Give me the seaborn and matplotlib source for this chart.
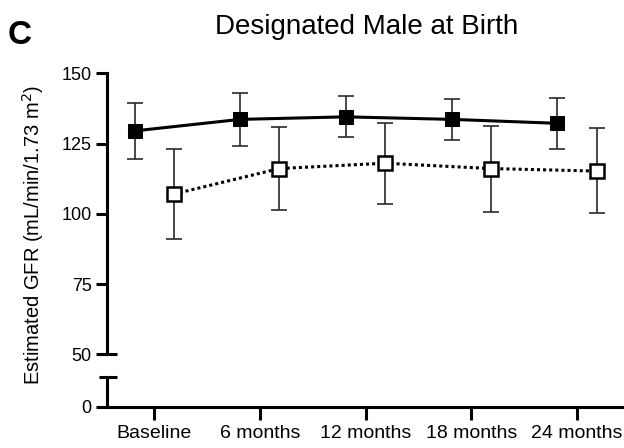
import numpy as np
import pandas as pd
import matplotlib
matplotlib.use("Agg")
import matplotlib.pyplot as plt
import matplotlib.transforms as mtransforms
import seaborn as sns

# Data
timepoints = ["Baseline", "6 months", "12 months", "18 months", "24 months"]
filled_mean = [129.5, 133.6, 134.5, 133.6, 132.2]
filled_upper = [139.3, 143.0, 141.8, 140.7, 141.3]
filled_lower = [119.5, 124.1, 127.2, 126.2, 122.9]
open_mean = [107.0, 116.1, 118.0, 116.1, 115.2]
open_upper = [122.9, 131.0, 132.4, 131.4, 130.6]
open_lower = [91.1, 101.2, 103.5, 100.8, 100.2]

sns.set_theme(style="ticks")
plt.rcParams["font.family"] = ["Liberation Sans", "DejaVu Sans"]
plt.rcParams["text.color"] = "black"
plt.rcParams["xtick.color"] = "black"
plt.rcParams["ytick.color"] = "black"
plt.rcParams["axes.edgecolor"] = "black"

LW = 2.2
fig = plt.figure(figsize=(6.24, 4.48), dpi=100)
ax_top = fig.add_axes([0.1715, 0.2092, 0.8285, 0.6272])
ax_bot = fig.add_axes([0.1715, 0.0922, 0.8285, 0.0670], sharex=ax_top)

idx = np.arange(len(timepoints))
off = 0.185
df = pd.DataFrame({
    "pos": np.concatenate([idx - off, idx + off]),
    "gfr": filled_mean + open_mean,
    "group": ["filled"] * 5 + ["open"] * 5,
})

# error bars
for means, up, lo, shift in [(filled_mean, filled_upper, filled_lower, -off),
                             (open_mean, open_upper, open_lower, off)]:
    m = np.array(means)
    yerr = [m - np.array(lo), np.array(up) - m]
    ax_top.errorbar(idx + shift, m, yerr=yerr, fmt="none", ecolor="#2a2a2a",
                    elinewidth=1.2, capsize=5.5, capthick=1.2, zorder=2)

sub_f = df[df.group == "filled"]
sub_o = df[df.group == "open"]
sns.lineplot(data=sub_f, x="pos", y="gfr", ax=ax_top, color="black", lw=2.2,
             marker="s", markersize=9.5, markerfacecolor="black",
             markeredgecolor="black", zorder=3, sort=False)
sns.lineplot(data=sub_o, x="pos", y="gfr", ax=ax_top, color="black", lw=2.2,
             linestyle=(0, (1, 1)), marker="s", markersize=9.5,
             markerfacecolor="white", markeredgecolor="black",
             markeredgewidth=1.8, zorder=3, sort=False)

# top axis
ax_top.set_ylim(50, 150)
ax_top.set_yticks([50, 75, 100, 125, 150])
ax_top.set_xlim(-0.445, 4.445)
for s in ["top", "right", "bottom"]:
    ax_top.spines[s].set_visible(False)
ax_top.spines["left"].set_linewidth(LW)
ax_top.tick_params(axis="y", width=LW, length=8, labelsize=13, pad=3)
ax_top.tick_params(axis="x", bottom=False, labelbottom=False)
ax_top.set_xlabel("")
ax_top.set_ylabel("")

# bottom axis
ax_bot.set_ylim(0, 10.7)
ax_bot.set_yticks([0])
for s in ["top", "right"]:
    ax_bot.spines[s].set_visible(False)
ax_bot.spines["left"].set_linewidth(LW)
ax_bot.spines["bottom"].set_linewidth(LW)
ax_bot.set_xticks(idx)
ax_bot.set_xticklabels(timepoints)
ax_bot.tick_params(axis="y", width=LW, length=8, labelsize=13, pad=3)
ax_bot.tick_params(axis="x", width=LW, length=9, labelsize=14, pad=4)
ax_bot.set_xlabel("")

# break caps
for ax, yv in [(ax_top, 50), (ax_bot, 10.7)]:
    tr = mtransforms.blended_transform_factory(ax.transAxes, ax.transData)
    ax.plot([-0.015, 0.019], [yv, yv], color="black", lw=LW, transform=tr,
            clip_on=False, solid_capstyle="butt")

fig.text(0.053, 0.475, "Estimated GFR (mL/min/1.73 m$^2$)", rotation=90,
         ha="center", va="center", fontsize=14.5)
fig.text(0.587, 0.94, "Designated Male at Birth", ha="center", va="center",
         fontsize=20)
fig.text(0.012, 0.92, "C", ha="left", va="center", fontsize=24,
         fontweight="bold")

fig.savefig("out.png", dpi=100)
